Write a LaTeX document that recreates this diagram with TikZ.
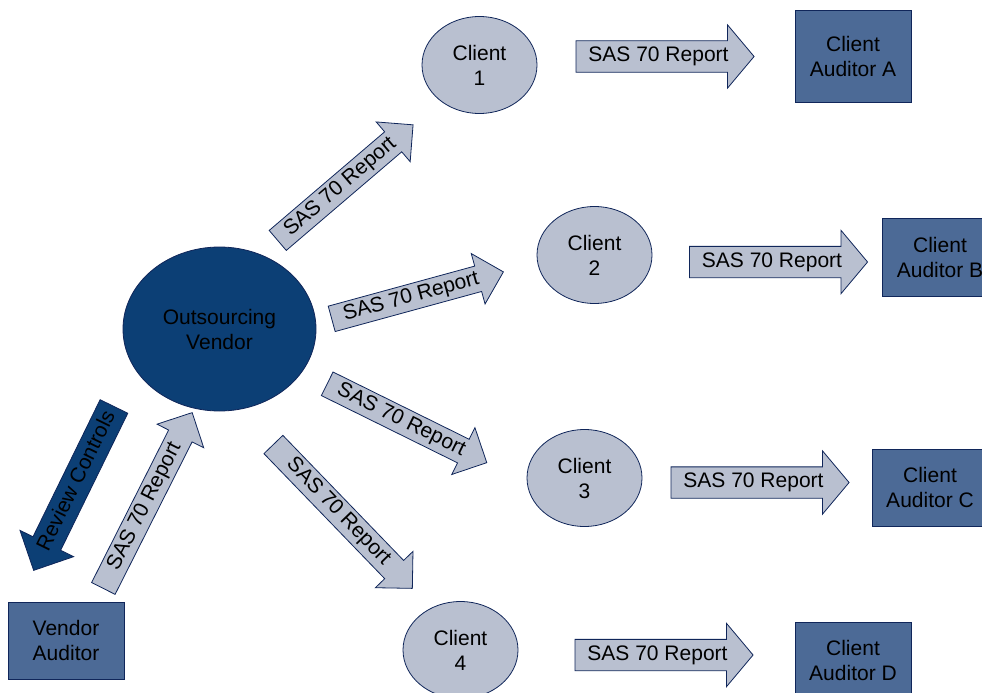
\documentclass[tikz,border=0pt]{standalone}
\usepackage{fontspec}
\setmainfont{Liberation Sans}
\usetikzlibrary{shapes.geometric,shapes.arrows}
\definecolor{vendorblue}{RGB}{12,63,117}
\definecolor{auditblue}{RGB}{76,106,150}
\definecolor{paleblue}{RGB}{185,192,208}
\definecolor{edgeblue}{RGB}{16,38,90}
\begin{document}
\begin{tikzpicture}[x=1pt,y=-1pt,
  every node/.style={font=\fontsize{21}{25}\selectfont,align=center,draw=edgeblue,line width=0.8pt},
  client/.style={ellipse,fill=paleblue,minimum width=115pt,minimum height=97pt,inner sep=0pt},
  auditor/.style={rectangle,fill=auditblue,minimum width=116pt,minimum height=77pt,inner sep=0pt},
  report/.style={single arrow,fill=paleblue,single arrow head indent=0pt,inner xsep=2pt,inner ysep=5.5pt,
    text height=15pt,text depth=4.5pt,single arrow head extend=16pt,single arrow tip angle=100,minimum height=178pt},
  slant/.style={report,inner ysep=3pt,single arrow head extend=13pt,single arrow tip angle=90}]
\clip (0,0) rectangle (982,693);
\node[ellipse,fill=vendorblue,minimum width=193pt,minimum height=164pt,inner sep=0pt] (vendor) at (219.5,329) {Outsourcing\\Vendor};
\node[client] (client1) at (479.5,65) {Client\\1};
\node[client] (client2) at (594.5,255) {Client\\2};
\node[client] (client3) at (584.5,478) {Client\\3};
\node[client] (client4) at (460.5,650) {Client\\4};
\node[auditor,minimum height=92pt] (auditA) at (853,56) {Client\\Auditor A};
\node[auditor,minimum height=78pt] (auditB) at (940,257) {Client\\Auditor B};
\node[auditor] (auditC) at (930,487.5) {Client\\Auditor C};
\node[auditor] (auditD) at (853,660.5) {Client\\Auditor D};
\node[auditor] (vaudit) at (66,640.5) {Vendor\\Auditor};
\node[report] (rptA) at (658.5,56.5) {SAS 70 Report};
\node[report] (rptB) at (772,262) {SAS 70 Report};
\node[report] (rptC) at (753.5,482.5) {SAS 70 Report};
\node[report] (rptD) at (657.5,655) {SAS 70 Report};
\node[slant,rotate=40.5] (rpt1) at (340.4,186.9) {SAS 70 Report};
\node[slant,rotate=15.3] (rpt2) at (411.2,297.1) {SAS 70 Report};
\node[slant,rotate=-26.3] (rpt3) at (401.1,420.3) {SAS 70 Report};
\node[slant,rotate=-46,minimum height=200pt] (rpt4) at (338.3,511.7) {SAS 70 Report};
\node[slant,rotate=63.2,minimum height=197pt] (rptv) at (144.8,506.4) {SAS 70 Report};
\node[slant,fill=vendorblue,rotate=63.9,shape border rotate=180,inner ysep=5.25pt,single arrow head extend=14.5pt,minimum height=182.5pt] (review) at (77.2,481.5) {Review Controls};
\end{tikzpicture}
\end{document}
